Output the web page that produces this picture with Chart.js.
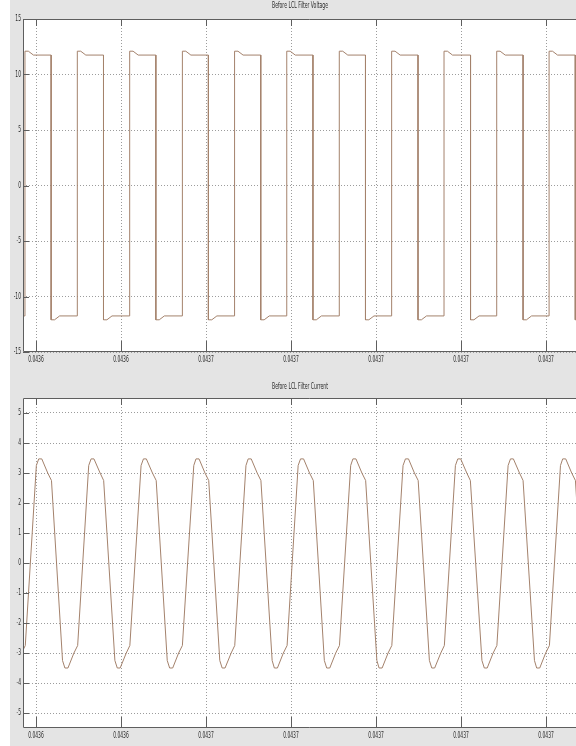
<!DOCTYPE html>
<html>
<head>
<meta charset="utf-8">
<script src="https://cdn.jsdelivr.net/npm/chart.js@4/dist/chart.umd.min.js"></script>
<style>
  html, body { margin: 0; padding: 0; background: #ffffff; overflow: hidden; width: 576px; height: 746px; }
  canvas { display: block; }
</style>
</head>
<body>
<canvas id="vChart" width="600" height="373"></canvas>
<canvas id="iChart" width="600" height="373"></canvas>
<script>
// ---- Data (time in microseconds after 43.6 ms) ----
const xTickValuesUs = [40, 45, 50, 55, 60, 65, 70];
const xTickLabels = ['0.0436', '0.0436', '0.0437', '0.0437', '0.0437', '0.0437', '0.0437'];
const xMinUs = 39.235;
const xMaxUs = 72.94;

const voltageTitle = 'Before LCL Filter Voltage';
const voltageYTicks = [-15, -10, -5, 0, 5, 10, 15];
const voltageYTickLabels = ['-15', '-10', '-5', '0', '5', '10', '15'];
const voltageTimeUs = [39.20,
  39.35, 39.35, 39.55, 39.85, 40.89, 40.89, 41.09, 41.39,
  42.43, 42.43, 42.63, 42.93, 43.97, 43.97, 44.17, 44.47,
  45.51, 45.51, 45.71, 46.01, 47.05, 47.05, 47.25, 47.55,
  48.61, 48.61, 48.81, 49.11, 50.14, 50.14, 50.34, 50.64,
  51.68, 51.68, 51.88, 52.18, 53.22, 53.22, 53.42, 53.72,
  54.75, 54.75, 54.95, 55.25, 56.29, 56.29, 56.49, 56.79,
  57.84, 57.84, 58.04, 58.34, 59.38, 59.38, 59.58, 59.88,
  60.92, 60.92, 61.12, 61.42, 62.47, 62.47, 62.67, 62.97,
  64.00, 64.00, 64.20, 64.50, 65.56, 65.56, 65.76, 66.06,
  67.10, 67.10, 67.30, 67.60, 68.65, 68.65, 68.85, 69.15,
  70.18, 70.18, 70.38, 70.68, 71.72, 71.72, 71.92, 72.22,
  73.20];
const voltageValues = [-11.75,
  -11.75, 12.1, 12.1, 11.75, 11.75, -12.1, -12.1, -11.75,
  -11.75, 12.1, 12.1, 11.75, 11.75, -12.1, -12.1, -11.75,
  -11.75, 12.1, 12.1, 11.75, 11.75, -12.1, -12.1, -11.75,
  -11.75, 12.1, 12.1, 11.75, 11.75, -12.1, -12.1, -11.75,
  -11.75, 12.1, 12.1, 11.75, 11.75, -12.1, -12.1, -11.75,
  -11.75, 12.1, 12.1, 11.75, 11.75, -12.1, -12.1, -11.75,
  -11.75, 12.1, 12.1, 11.75, 11.75, -12.1, -12.1, -11.75,
  -11.75, 12.1, 12.1, 11.75, 11.75, -12.1, -12.1, -11.75,
  -11.75, 12.1, 12.1, 11.75, 11.75, -12.1, -12.1, -11.75,
  -11.75, 12.1, 12.1, 11.75, 11.75, -12.1, -12.1, -11.75,
  -11.75, 12.1, 12.1, 11.75, 11.75, -12.1, -12.1, -11.75,
  -11.75];

const currentTitle = 'Before LCL Filter Current';
const currentYTicks = [-5, -4, -3, -2, -1, 0, 1, 2, 3, 4, 5];
const currentYTickLabels = ['-5', '-4', '-3', '-2', '-1', '0', '1', '2', '3', '4', '5'];
const currentTimeUs = [
  38.48, 38.62, 38.79, 39.15, 39.37,
  40.02, 40.16, 40.34, 40.69, 40.91,
  41.56, 41.70, 41.88, 42.23, 42.45,
  43.10, 43.24, 43.41, 43.77, 43.98,
  44.64, 44.78, 44.95, 45.31, 45.52,
  46.18, 46.32, 46.49, 46.85, 47.07,
  47.72, 47.86, 48.04, 48.39, 48.61,
  49.28, 49.41, 49.59, 49.94, 50.16,
  50.81, 50.95, 51.12, 51.48, 51.69,
  52.35, 52.48, 52.66, 53.01, 53.23,
  53.89, 54.02, 54.20, 54.55, 54.77,
  55.42, 55.56, 55.74, 56.09, 56.31,
  56.96, 57.10, 57.28, 57.63, 57.85,
  58.51, 58.64, 58.82, 59.17, 59.39,
  60.05, 60.18, 60.36, 60.71, 60.93,
  61.59, 61.73, 61.91, 62.26, 62.48,
  63.14, 63.28, 63.45, 63.81, 64.02,
  64.67, 64.81, 64.98, 65.34, 65.55,
  66.23, 66.37, 66.54, 66.89, 67.11,
  67.77, 67.91, 68.08, 68.44, 68.65,
  69.32, 69.45, 69.63, 69.98, 70.20,
  70.85, 70.98, 71.16, 71.51, 71.73,
  72.39, 72.52, 72.70, 73.05, 73.27];
const currentValues = [
  -3.25, -3.5, -3.5, -3.0, -2.75,
  3.25, 3.47, 3.47, 3.0, 2.75,
  -3.25, -3.5, -3.5, -3.0, -2.75,
  3.25, 3.47, 3.47, 3.0, 2.75,
  -3.25, -3.5, -3.5, -3.0, -2.75,
  3.25, 3.47, 3.47, 3.0, 2.75,
  -3.25, -3.5, -3.5, -3.0, -2.75,
  3.25, 3.47, 3.47, 3.0, 2.75,
  -3.25, -3.5, -3.5, -3.0, -2.75,
  3.25, 3.47, 3.47, 3.0, 2.75,
  -3.25, -3.5, -3.5, -3.0, -2.75,
  3.25, 3.47, 3.47, 3.0, 2.75,
  -3.25, -3.5, -3.5, -3.0, -2.75,
  3.25, 3.47, 3.47, 3.0, 2.75,
  -3.25, -3.5, -3.5, -3.0, -2.75,
  3.25, 3.47, 3.47, 3.0, 2.75,
  -3.25, -3.5, -3.5, -3.0, -2.75,
  3.25, 3.47, 3.47, 3.0, 2.75,
  -3.25, -3.5, -3.5, -3.0, -2.75,
  3.25, 3.47, 3.47, 3.0, 2.75,
  -3.25, -3.5, -3.5, -3.0, -2.75,
  3.25, 3.47, 3.47, 3.0, 2.75,
  -3.25, -3.5, -3.5, -3.0, -2.75];

// ---- Styling ----
const FIG_BG = '#e4e4e4';
const LINE_COLOR = '#a4826c';
const GRID_COLOR = '#9c9c9c';
const AXIS_COLOR = '#5e5e5e';
const TEXT_COLOR = '#2a2a2a';
const FONT_FAMILY = '"Liberation Sans Narrow", "DejaVu Sans Condensed", "Liberation Sans", Arial, sans-serif';

function drawSqueezed(ctx, text, x, y, sx, align) {
  ctx.save();
  ctx.translate(x, y);
  ctx.scale(sx, 1);
  ctx.textAlign = align;
  ctx.textBaseline = 'middle';
  ctx.fillText(text, 0, 0);
  ctx.restore();
}

const matlabFrame = {
  id: 'matlabFrame',
  beforeDraw(chart) {
    const { ctx, chartArea: a, width, height } = chart;
    ctx.save();
    ctx.fillStyle = '#ffffff';
    ctx.fillRect(0, 0, width, height);
    ctx.fillStyle = FIG_BG;
    ctx.fillRect(10, 0, width - 10, height);
    ctx.fillStyle = '#ffffff';
    ctx.fillRect(a.left, a.top, a.right - a.left, a.bottom - a.top);
    ctx.restore();
  },
  afterDatasetsDraw(chart, args, opts) {
    const { ctx, chartArea: a } = chart;
    const xs = chart.scales.x, ys = chart.scales.y;
    ctx.save();
    ctx.strokeStyle = AXIS_COLOR;
    ctx.lineWidth = 1;
    ctx.beginPath();
    ctx.moveTo(a.right, a.top + 0.5);
    ctx.lineTo(a.left + 0.5, a.top + 0.5);
    ctx.lineTo(a.left + 0.5, a.bottom - 0.5);
    ctx.lineTo(a.right, a.bottom - 0.5);
    xs.ticks.forEach(t => {
      const px = Math.round(xs.getPixelForValue(t.value)) + 0.5;
      ctx.moveTo(px, a.top);
      ctx.lineTo(px, a.top + 7);
      ctx.moveTo(px, a.bottom);
      ctx.lineTo(px, a.bottom - 11);
    });
    ys.ticks.forEach(t => {
      const py = Math.round(ys.getPixelForValue(t.value)) + 0.5;
      ctx.moveTo(a.left, py);
      ctx.lineTo(a.left + 6, py);
    });
    ctx.stroke();

    // tick labels
    ctx.fillStyle = TEXT_COLOR;
    ctx.font = '9px ' + FONT_FAMILY;
    const sx = 15.5 / ctx.measureText('0.0436').width;
    xs.ticks.forEach((t, i) => {
      drawSqueezed(ctx, opts.xLabels[i], xs.getPixelForValue(t.value), a.bottom + 8, sx, 'center');
    });
    ys.ticks.forEach((t, i) => {
      drawSqueezed(ctx, opts.yLabels[i], a.left - 2, ys.getPixelForValue(t.value), sx, 'right');
    });

    // title
    ctx.font = '8px ' + FONT_FAMILY;
    const tsx = 56 / ctx.measureText(currentTitle).width;
    drawSqueezed(ctx, opts.title, 300, opts.titleY, tsx, 'center');
    ctx.restore();
  }
};

function makeChart(id, times, values, yMin, yMax, yTicks, yLabels, title, titleY, padding) {
  const points = times.map((t, i) => ({ x: t, y: values[i] }));
  return new Chart(document.getElementById(id), {
    type: 'line',
    data: {
      datasets: [{
        data: points,
        borderColor: LINE_COLOR,
        borderWidth: 1,
        pointRadius: 0,
        tension: 0,
        fill: false,
        clip: 0
      }]
    },
    options: {
      responsive: false,
      animation: false,
      devicePixelRatio: 1,
      layout: { padding: padding },
      plugins: {
        legend: { display: false },
        tooltip: { enabled: false },
        matlabFrame: { xLabels: xTickLabels, yLabels: yLabels, title: title, titleY: titleY }
      },
      scales: {
        x: {
          type: 'linear',
          min: xMinUs,
          max: xMaxUs,
          afterBuildTicks: s => { s.ticks = xTickValuesUs.map(v => ({ value: v })); },
          afterFit: s => { s.height = 0; },
          ticks: { display: false, autoSkip: false },
          grid: { color: GRID_COLOR, lineWidth: 1, drawTicks: false },
          border: { display: false, dash: [1, 2] }
        },
        y: {
          type: 'linear',
          min: yMin,
          max: yMax,
          afterBuildTicks: s => { s.ticks = yTicks.map(v => ({ value: v })); },
          afterFit: s => { s.width = 0; },
          ticks: { display: false, autoSkip: false },
          grid: { color: GRID_COLOR, lineWidth: 1, drawTicks: false },
          border: { display: false, dash: [1, 2] }
        }
      }
    },
    plugins: [matlabFrame]
  });
}

makeChart('vChart', voltageTimeUs, voltageValues, -15, 15, voltageYTicks, voltageYTickLabels,
  voltageTitle, 5.5, { left: 23, top: 19, right: 4, bottom: 21 });
makeChart('iChart', currentTimeUs, currentValues, -5.5, 5.5, currentYTicks, currentYTickLabels,
  currentTitle, 13.5, { left: 23, top: 25, right: 4, bottom: 18 });
</script>
</body>
</html>
